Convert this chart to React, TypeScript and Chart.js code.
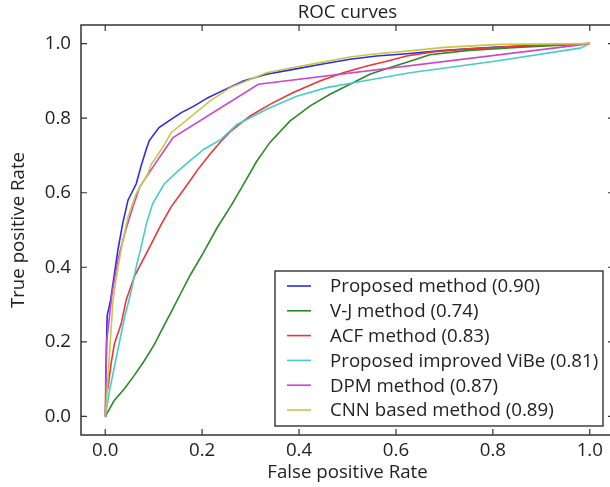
import { useEffect, useRef } from 'react';
import { Chart, registerables } from 'chart.js';

Chart.register(...registerables);

const xTicks = [0, 0.2, 0.4, 0.6, 0.8, 1.0];
const yTicks = [0, 0.2, 0.4, 0.6, 0.8, 1.0];

const seriesLabels = [
  'Proposed method (0.90)',
  'V-J method (0.74)',
  'ACF method (0.83)',
  'Proposed improved ViBe (0.81)',
  'DPM method (0.87)',
  'CNN based method (0.89)',
];
const seriesColors = ['#2b2bea', '#2a8a2a', '#ee3535', '#45cccc', '#cc45cc', '#c8c845'];

const proposedFpr = [0, 0.001, 0.004, 0.011, 0.016, 0.026, 0.036, 0.047, 0.064, 0.074, 0.085, 0.091, 0.111, 0.136, 0.157, 0.184, 0.212, 0.239, 0.285, 0.333, 0.388, 0.443, 0.505, 0.56, 0.622, 0.7, 0.8, 0.9, 1.0];
const proposedTpr = [0, 0.1, 0.27, 0.311, 0.356, 0.445, 0.517, 0.58, 0.624, 0.672, 0.718, 0.74, 0.775, 0.797, 0.815, 0.833, 0.855, 0.872, 0.9, 0.918, 0.931, 0.944, 0.958, 0.967, 0.973, 0.982, 0.99, 0.996, 1.0];

const vjFpr = [0, 0.019, 0.04, 0.06, 0.081, 0.1, 0.12, 0.14, 0.157, 0.175, 0.203, 0.23, 0.261, 0.285, 0.313, 0.34, 0.381, 0.423, 0.464, 0.505, 0.546, 0.588, 0.629, 0.67, 0.75, 0.85, 1.0];
const vjTpr = [0, 0.043, 0.075, 0.11, 0.15, 0.19, 0.24, 0.29, 0.333, 0.378, 0.44, 0.504, 0.568, 0.622, 0.685, 0.735, 0.792, 0.833, 0.864, 0.891, 0.918, 0.936, 0.953, 0.97, 0.982, 0.99, 1.0];

const acfFpr = [0, 0.002, 0.006, 0.012, 0.019, 0.033, 0.043, 0.06, 0.074, 0.094, 0.115, 0.136, 0.164, 0.191, 0.216, 0.239, 0.258, 0.299, 0.34, 0.388, 0.443, 0.491, 0.54, 0.581, 0.622, 0.676, 0.75, 0.85, 0.95, 1.0];
const acfTpr = [0, 0.06, 0.079, 0.141, 0.195, 0.249, 0.311, 0.375, 0.41, 0.46, 0.514, 0.562, 0.612, 0.662, 0.703, 0.738, 0.764, 0.806, 0.837, 0.869, 0.9, 0.922, 0.94, 0.953, 0.967, 0.978, 0.986, 0.993, 0.998, 1.0];

const vibeFpr = [0, 0.009, 0.023, 0.04, 0.054, 0.064, 0.074, 0.085, 0.098, 0.122, 0.15, 0.177, 0.203, 0.239, 0.272, 0.333, 0.395, 0.457, 0.512, 0.574, 0.629, 0.8, 0.98, 1.0];
const vibeTpr = [0, 0.07, 0.159, 0.266, 0.338, 0.401, 0.454, 0.517, 0.571, 0.624, 0.658, 0.688, 0.716, 0.743, 0.783, 0.824, 0.859, 0.882, 0.895, 0.909, 0.922, 0.952, 0.988, 1.0];

const dpmFpr = [0, 0.003, 0.014, 0.026, 0.04, 0.057, 0.071, 0.098, 0.122, 0.14, 0.316, 0.938, 1.0];
const dpmTpr = [0, 0.2, 0.329, 0.419, 0.49, 0.562, 0.615, 0.668, 0.714, 0.748, 0.891, 0.99, 1.0];

const cnnFpr = [0, 0.003, 0.016, 0.023, 0.035, 0.047, 0.064, 0.088, 0.095, 0.119, 0.136, 0.216, 0.258, 0.299, 0.333, 0.388, 0.443, 0.505, 0.56, 0.622, 0.7, 0.814, 1.0];
const cnnTpr = [0, 0.05, 0.311, 0.374, 0.463, 0.535, 0.598, 0.651, 0.676, 0.722, 0.761, 0.846, 0.882, 0.904, 0.922, 0.936, 0.949, 0.964, 0.973, 0.98, 0.99, 0.998, 1.0];

const FONT = "'Open Sans', sans-serif";
const FS = 18.7;
const TEXT = '#222222';

export default function App() {
  const ref = useRef<HTMLCanvasElement>(null);

  useEffect(() => {
    const fprs = [proposedFpr, vjFpr, acfFpr, vibeFpr, dpmFpr, cnnFpr];
    const tprs = [proposedTpr, vjTpr, acfTpr, vibeTpr, dpmTpr, cnnTpr];
    const datasets = seriesLabels.map((label, i) => ({
      label,
      data: fprs[i].map((x, j) => ({ x, y: tprs[i][j] })),
      borderColor: seriesColors[i],
      backgroundColor: seriesColors[i],
      borderWidth: 1.6,
      pointRadius: 0,
      fill: false,
      tension: 0,
      order: 10 - i,
    }));

    const framePlugin = {
      id: 'frameAndLegend',
      afterDraw(chart: any) {
        const { ctx, chartArea } = chart;
        const { left, right, top, bottom } = chartArea;
        const xs = chart.scales.x;
        const ys = chart.scales.y;
        ctx.save();
        // title
        ctx.fillStyle = TEXT;
        ctx.font = `${FS}px ${FONT}`;
        ctx.textAlign = 'center';
        ctx.textBaseline = 'middle';
        ctx.fillText('ROC curves', (left + right) / 2, 13);
        // frame
        ctx.strokeStyle = '#333';
        ctx.lineWidth = 1.5;
        ctx.strokeRect(left, top, right - left, bottom - top);
        // inward ticks
        ctx.lineWidth = 1.2;
        const tl = 6;
        ctx.beginPath();
        xTicks.forEach((v) => {
          const p = xs.getPixelForValue(v);
          ctx.moveTo(p, bottom);
          ctx.lineTo(p, bottom - tl);
          ctx.moveTo(p, top);
          ctx.lineTo(p, top + tl);
        });
        yTicks.forEach((v) => {
          const p = ys.getPixelForValue(v);
          ctx.moveTo(left, p);
          ctx.lineTo(left + tl, p);
          ctx.moveTo(right, p);
          ctx.lineTo(right - tl, p);
        });
        ctx.stroke();
        // legend
        const boxW = 328;
        const boxH = 155;
        const bx = right - 11 - boxW;
        const by = bottom - 9 - boxH;
        ctx.fillStyle = '#ffffff';
        ctx.fillRect(bx, by, boxW, boxH);
        ctx.strokeStyle = '#222';
        ctx.lineWidth = 1.3;
        ctx.strokeRect(bx, by, boxW, boxH);
        ctx.textAlign = 'left';
        ctx.textBaseline = 'middle';
        ctx.font = `${FS}px ${FONT}`;
        chart.data.datasets.forEach((ds: any, i: number) => {
          const cy = by + 15 + i * 24.8;
          ctx.strokeStyle = ds.borderColor;
          ctx.lineWidth = 1.6;
          ctx.beginPath();
          ctx.moveTo(bx + 12, cy);
          ctx.lineTo(bx + 36, cy);
          ctx.stroke();
          ctx.fillStyle = TEXT;
          ctx.fillText(ds.label, bx + 55, cy + 1);
        });
        ctx.restore();
      },
    };

    const chart = new Chart(ref.current as HTMLCanvasElement, {
      type: 'line',
      data: { datasets: datasets as any },
      options: {
        animation: false,
        responsive: false,
        maintainAspectRatio: false,
        layout: { padding: { top: 25, right: 16, left: 0, bottom: 0 } },
        plugins: {
          legend: { display: false },
          tooltip: { enabled: false },
          title: { display: false },
        },
        scales: {
          x: {
            type: 'linear',
            min: -0.05,
            max: 1.05,
            afterBuildTicks: (s: any) => {
              s.ticks = xTicks.map((v) => ({ value: v }));
            },
            afterFit: (s: any) => {
              s.height = 52;
            },
            grid: { display: false, drawTicks: false },
            border: { display: false },
            ticks: {
              padding: 4,
              autoSkip: false,
              maxRotation: 0,
              color: TEXT,
              font: { family: FONT, size: FS, lineHeight: 1.2 },
              callback: (v: any) => Number(v).toFixed(1),
            },
            title: {
              display: true,
              text: 'False positive Rate',
              color: TEXT,
              font: { family: FONT, size: FS, lineHeight: 1.2 },
              padding: { top: 0, bottom: 3 },
            },
          },
          y: {
            type: 'linear',
            min: -0.05,
            max: 1.05,
            afterBuildTicks: (s: any) => {
              s.ticks = yTicks.map((v) => ({ value: v }));
            },
            afterFit: (s: any) => {
              s.width = 81;
            },
            grid: { display: false, drawTicks: false },
            border: { display: false },
            ticks: {
              padding: 10,
              autoSkip: false,
              color: TEXT,
              font: { family: FONT, size: FS, lineHeight: 1.2 },
              callback: (v: any) => Number(v).toFixed(1),
            },
            title: {
              display: true,
              text: 'True positive Rate',
              color: TEXT,
              font: { family: FONT, size: FS, lineHeight: 1.2 },
              padding: { top: 7, bottom: 0 },
            },
          },
        },
      },
      plugins: [framePlugin],
    });
    return () => chart.destroy();
  }, []);

  return (
    <div
      style={{
        position: 'absolute',
        left: 0,
        top: 0,
        width: 610,
        height: 487,
        overflow: 'hidden',
        background: '#ffffff',
      }}
    >
      <canvas ref={ref} width={630} height={487} style={{ display: 'block' }} />
    </div>
  );
}
